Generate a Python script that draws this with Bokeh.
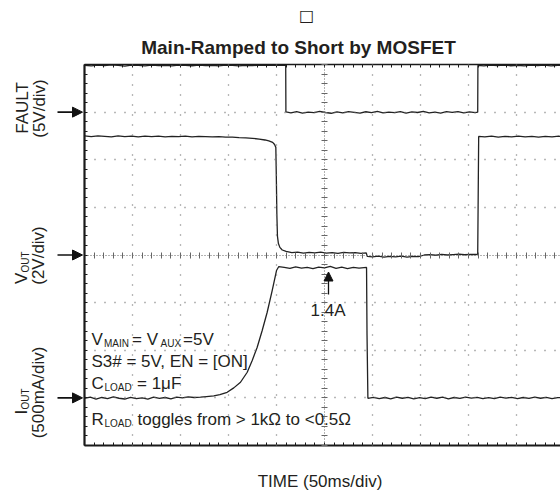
import math
from bokeh.plotting import figure
from bokeh.models import (Range1d, LinearAxis, FixedTicker, Label, Arrow, NormalHead)
from bokeh.embed import file_html
from bokeh.resources import INLINE

# ---------------- channel settings (scope) ----------------
MS_PER_DIV = 50
H_DIVS, V_DIVS = 10, 8
FAULT_V_PER_DIV, FAULT_OFFSET_DIV = 5.0, 3.0
VOUT_V_PER_DIV, VOUT_OFFSET_DIV = 2.0, 0.0
IOUT_A_PER_DIV, IOUT_OFFSET_DIV = 0.5, -3.0

# ---------------- data ----------------
fault_t = [0, 7, 14, 21, 28, 35, 42, 49, 56, 63, 70, 77, 84, 91, 98, 105, 112, 119, 126, 133,
           140, 147, 154, 161, 168, 175, 182, 189, 196, 203, 209.6,
           209.8, 215, 221, 227, 233, 239, 245, 251, 257, 263, 269, 275, 281, 287, 293, 299, 305,
           311, 317, 323, 329, 335, 341, 347, 353, 359, 365, 371, 377, 383, 389, 395, 401, 407, 409.6,
           409.8, 416, 423, 430, 437, 444, 451, 458, 465, 472, 479, 486, 493, 500]
fault_v = [4.92, 4.85, 4.93, 4.88, 4.95, 4.9, 4.84, 4.93, 4.9, 4.86, 4.94, 4.89, 4.92, 4.85, 4.93,
           4.9, 4.87, 4.94, 4.88, 4.92, 4.86, 4.93, 4.9, 4.85, 4.92, 4.88, 4.94, 4.9, 4.92, 4.91, 4.91,
           0.02, -0.08, 0.05, -0.1, 0.0, -0.06, 0.08, -0.04, -0.12, 0.03, -0.07, 0.06, -0.02, -0.1,
           0.04, -0.05, 0.07, -0.09, 0.01, -0.06, 0.05, -0.11, 0.02, -0.04, 0.08, -0.07, 0.0, -0.1,
           0.05, -0.03, 0.06, -0.08, 0.02, -0.05, 0.0,
           4.9, 4.86, 4.93, 4.88, 4.94, 4.87, 4.92, 4.85, 4.93, 4.89, 4.94, 4.86, 4.92, 4.9]

vout_t = [0, 7, 14, 21, 28, 35, 42, 49, 56, 63, 70, 77, 84, 91, 98, 105, 112, 119, 126, 133,
          140, 147, 154, 161, 168, 175, 182, 188, 192, 196, 198, 199.3, 199.8, 200.4, 201, 202,
          203.5, 206, 210, 216, 222, 228, 234, 240, 246, 252, 258, 264, 270, 276, 282, 288, 293.5,
          294.5, 300, 306, 312, 318, 324, 330, 336, 342, 348, 354, 360, 366, 372, 378, 384, 390,
          396, 402, 408, 409.6, 410.1, 410.6, 417, 424, 431, 438, 445, 452, 459, 466, 473, 480,
          487, 494, 500]
vout_v = [5.0, 4.97, 5.0, 4.98, 4.96, 5.0, 4.97, 4.99, 4.96, 4.99, 4.97, 4.99, 4.96, 4.98, 4.97,
          4.99, 4.96, 4.98, 4.97, 4.96, 4.97, 4.95, 4.95, 4.93, 4.92, 4.9, 4.87, 4.83, 4.79, 4.73,
          4.64, 4.52, 3.34, 1.66, 0.78, 0.48, 0.32, 0.21, 0.15, 0.1, 0.12, 0.08, 0.11, 0.09, 0.12,
          0.08, 0.1, 0.07, 0.11, 0.09, 0.1, 0.07, 0.09, -0.06, -0.08, -0.05, -0.09, -0.06, -0.08,
          -0.05, -0.09, -0.06, -0.07, 0.0, 0.02, -0.01, 0.03, 0.0, 0.02, 0.04, 0.01, 0.03, 0.02,
          0.04, 2.5, 4.98, 4.96, 4.99, 4.95, 4.98, 4.96, 4.99, 4.96, 4.98, 4.95, 4.98, 4.96, 4.99,
          4.97]

iout_t = [0, 6, 12, 18, 24, 30, 36, 42, 48, 54, 60, 66, 72, 78, 84, 90, 96, 102, 108, 114,
          120.8, 127, 134.7, 141, 148.6, 155.5, 162.5, 169.5, 174.7, 179.9, 185.1, 190.3, 195.5,
          200, 202.4, 208, 214, 220, 226, 232, 238, 244, 250, 256, 262, 268, 274, 280, 286,
          293.8, 294.3, 295.2, 301, 307, 313, 319, 325, 331, 337, 343, 349, 355, 361, 367, 373,
          379, 385, 391, 397, 403, 409, 415, 421, 427, 433, 439, 445, 451, 457, 463, 469, 475,
          481, 487, 493, 500]
iout_a = [-0.005, 0.008, -0.012, 0.004, -0.008, 0.01, -0.004, -0.012, 0.006, -0.008, 0.0, -0.012,
          0.008, -0.006, 0.004, -0.01, 0.008, 0.0, 0.01, 0.004, 0.008, 0.014, 0.02, 0.035, 0.059,
          0.105, 0.164, 0.269, 0.392, 0.532, 0.707, 0.899, 1.127, 1.337, 1.379, 1.37, 1.36, 1.375,
          1.362, 1.37, 1.357, 1.372, 1.365, 1.38, 1.36, 1.372, 1.358, 1.37, 1.362, 1.37, 0.66,
          -0.005, 0.006, -0.008, 0.004, -0.01, 0.008, -0.004, 0.006, -0.01, 0.002, -0.008, 0.007,
          -0.004, 0.008, -0.01, 0.004, -0.006, 0.009, -0.003, 0.006, -0.009, 0.003, -0.007, 0.008,
          -0.002, 0.006, -0.008, 0.004, -0.006, 0.007, -0.004, 0.005, -0.008, 0.003, 0.0]

# ---------------- page geometry ----------------
W, H = 560, 490
GX0, GDX = 84.0, 48.0        # graticule left edge, px per horizontal division
GYC, GDY = 254.5, 47.625     # graticule centre line, px per vertical division


def X(xp):
    return (xp - GX0) * MS_PER_DIV / GDX


def Y(yp):
    return (GYC - yp) / GDY


p = figure(width=W, height=H, output_backend="svg", toolbar_location=None,
           x_range=Range1d(X(0), X(W)), y_range=Range1d(Y(H), Y(0)),
           x_axis_type=None, y_axis_type=None, min_border=0)
p.outline_line_color = None
p.background_fill_color = "white"
p.border_fill_color = "white"


def ch_range(per_div, offset):
    return Range1d((Y(H) - offset) * per_div, (Y(0) - offset) * per_div)


p.extra_y_ranges = {
    "fault": ch_range(FAULT_V_PER_DIV, FAULT_OFFSET_DIV),
    "vout": ch_range(VOUT_V_PER_DIV, VOUT_OFFSET_DIV),
    "iout": ch_range(IOUT_A_PER_DIV, IOUT_OFFSET_DIV),
}

T_END = H_DIVS * MS_PER_DIV
Y_TOP = V_DIVS / 2
x_minor = [k * MS_PER_DIV / 5 for k in range(H_DIVS * 5 + 1)]
y_minor = [round(-Y_TOP + k * 0.2, 1) for k in range(V_DIVS * 5 + 1)]


def guide(side, loc, bounds, minor, color, width, dash, tin, tout):
    ax = LinearAxis(fixed_location=loc, bounds=bounds,
                    ticker=FixedTicker(ticks=[], minor_ticks=minor),
                    axis_line_color=color, axis_line_width=width, axis_line_dash=dash,
                    minor_tick_in=tin, minor_tick_out=tout, minor_tick_line_color=color,
                    minor_tick_line_width=1, major_tick_line_color=None)
    p.add_layout(ax, side)


GRID_C = "#707070"
EDGE_C = "#1a1a1a"
# dotted division lines
for k in range(1, H_DIVS):
    if k != H_DIVS // 2:
        guide("left", k * MS_PER_DIV, (-Y_TOP, Y_TOP), [], GRID_C, 1.3, "1 9", 0, 0)
for k in range(-V_DIVS // 2 + 1, V_DIVS // 2):
    if k != 0:
        guide("below", k, (0, T_END), [], GRID_C, 1.3, "1 9", 0, 0)
# centre crosshair with sub-division ticks
guide("below", 0, (0, T_END), x_minor, "#666666", 1, "1 2", 3, 3)
guide("left", H_DIVS // 2 * MS_PER_DIV, (-Y_TOP, Y_TOP), y_minor, "#666666", 1, "1 2", 3, 3)
# frame edges with inward ticks
guide("left", 0, (-Y_TOP, Y_TOP), y_minor, EDGE_C, 2.2, "solid", 3, 0)
guide("below", -Y_TOP, (0, T_END), x_minor, EDGE_C, 1.8, "solid", 3, 0)
guide("above", Y_TOP, (0, T_END), x_minor, EDGE_C, 1.6, "solid", 3, 0)

TRACE_C = "#222222"
p.line(fault_t, fault_v, y_range_name="fault", line_color=TRACE_C, line_width=1.3)
p.line(vout_t, vout_v, y_range_name="vout", line_color=TRACE_C, line_width=1.3)
p.line(iout_t, iout_a, y_range_name="iout", line_color=TRACE_C, line_width=1.3)

# ---------------- texts & markers ----------------
FONT = "Liberation Sans"
TXT = "#231f20"


def put(text, xp, yp, size=17, align="left", baseline="alphabetic", angle=0.0,
        style="normal", font=FONT):
    p.add_layout(Label(x=X(xp), y=Y(yp), text=text, text_font=font,
                       text_font_size=f"{size}px", text_align=align,
                       text_baseline=baseline, angle=angle, text_color=TXT,
                       text_font_style=style))


R90 = math.pi / 2
put("\u25a1", 306, 15, size=16, align="center", baseline="middle", font="DejaVu Sans")
put("Main-Ramped to Short by MOSFET", 298, 46.5, size=19, align="center", style="bold")
put("TIME (50ms/div)", 319.5, 480.5, size=17, align="center")

# channel labels (rotated)
put("FAULT", 21.5, 107.5, align="center", baseline="middle", angle=R90)
put("(5V/div)", 38.5, 108, align="center", baseline="middle", angle=R90)
put("V", 21, 283.5, baseline="middle", angle=R90)
put("OUT", 25, 272, size=10, baseline="middle", angle=R90)
put("(2V/div)", 38, 255, align="center", baseline="middle", angle=R90)
put("I", 21, 414, baseline="middle", angle=R90)
put("OUT", 25, 409, size=10, baseline="middle", angle=R90)
put("(500mA/div)", 38, 392, align="center", baseline="middle", angle=R90)

# ground-level arrows
for off in (FAULT_OFFSET_DIV, VOUT_OFFSET_DIV, IOUT_OFFSET_DIV):
    p.add_layout(Arrow(x_start=X(57), y_start=off, x_end=X(82), y_end=off, line_width=1.6,
                       line_color="#111111",
                       end=NormalHead(size=10, fill_color="#111111", line_color="#111111")))

# conditions text
put("V", 91, 339)
put("MAIN", 103.5, 342.5, size=10)
put("= V", 131.5, 339)
put("AUX", 160, 342.5, size=10)
put("=5V", 182.5, 339)
put("S3# = 5V, EN = [ON]", 91, 361)
put("C", 91, 383)
put("LOAD", 104, 386.5, size=10)
put("= 1\u03bcF", 136.5, 383)
put("R", 91, 419)
put("LOAD", 104, 422.5, size=10)
put("toggles from > 1k\u03a9 to <0.5\u03a9", 137, 419)

# 1.4A marker
p.add_layout(Arrow(x_start=X(328), y_start=Y(294), x_end=X(328), y_end=Y(271.5), line_width=1.3,
                   line_color="#111111",
                   end=NormalHead(size=9, fill_color="#111111", line_color="#111111")))
put("1.4A", 310, 310)

open("out.html", "w").write(file_html(p, INLINE))
